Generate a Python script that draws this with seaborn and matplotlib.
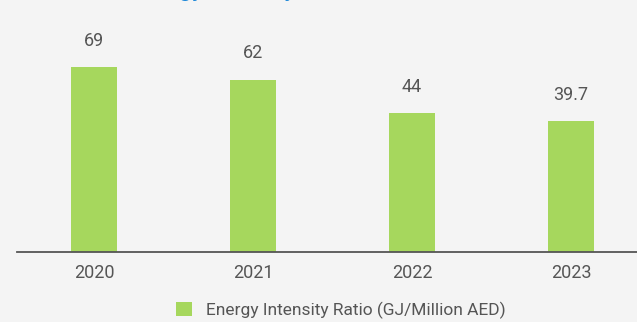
import matplotlib.pyplot as plt
import seaborn as sns
import numpy as np
import pandas as pd

years = ['2020', '2021', '2022', '2023']
ratios = [69, 62, 44, 39.7]
value_labels = ['69', '62', '44', '39.7']
series_name = 'Energy Intensity Ratio (GJ/Million AED)'
title = 'Energy Intensity'

bg = '#f4f4f4'
green = '#a6d75d'
grey = '#555555'

sns.set_theme(style='white')
plt.rcParams['font.family'] = ['Roboto', 'DejaVu Sans']

# axis does not start at zero in the original
base = -31.4
df = pd.DataFrame({'year': years, 'ratio': ratios})
df['height'] = df['ratio'] - base

fig = plt.figure(figsize=(6.37, 3.22), dpi=100, facecolor=bg)
ax = fig.add_axes([17 / 637, 70 / 322, 1 - 17 / 637, 252 / 322])
ax.set_facecolor(bg)

sns.barplot(data=df, x='year', y='height', bottom=base, color=green,
            width=0.29, saturation=1, linewidth=0, ax=ax, label=series_name)

ax.set_xlim(-0.484, 3.415)
ax.set_ylim(base, base + 252 / 1.843)

for i, (v, lab) in enumerate(zip(ratios, value_labels)):
    ax.annotate(lab, (i, v), xytext=(0, 19), textcoords='offset points',
                ha='center', va='center', fontsize=13, color=grey)

for s in ['top', 'right', 'left']:
    ax.spines[s].set_visible(False)
ax.spines['bottom'].set_color(grey)
ax.spines['bottom'].set_linewidth(1.3)
ax.set_yticks([])
ax.set_xlabel('')
ax.set_ylabel('')
ax.tick_params(axis='x', length=0, pad=9, labelsize=13, labelcolor=grey)

ax.legend(loc='center', bbox_to_anchor=(0.5226, -0.232),
          frameon=False, fontsize=12.5, labelcolor=grey, handlelength=0.9,
          handleheight=0.9, handletextpad=0.8, borderpad=0.1)

# title cut off at the top edge of the original image
fig.text(134 / 637, 1 + 4 / 322, title, fontsize=16, fontweight='bold',
         color='#1a86d8', ha='left', va='baseline')

fig.savefig('out.png', dpi=100, facecolor=bg)
